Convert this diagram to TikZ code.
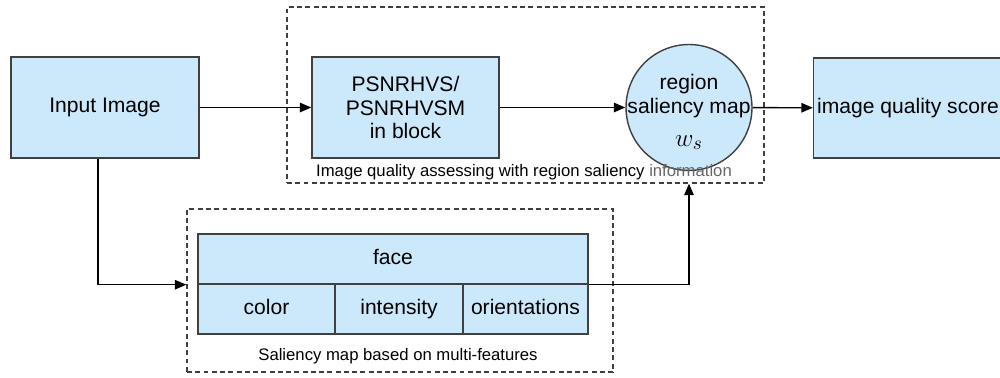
\documentclass[tikz,border=0pt]{standalone}
\usepackage{fontspec}
\setmainfont{Liberation Sans}
\usetikzlibrary{arrows.meta}

\definecolor{boxblue}{RGB}{204,233,251}
\definecolor{edgegray}{RGB}{64,64,64}

\begin{document}
\begin{tikzpicture}[x=0.02cm,y=-0.02cm,
    blk/.style={draw=edgegray,fill=boxblue,line width=0.8pt,inner sep=0pt,
      align=center,font=\fontsize{12}{13.6}\selectfont},
    cell/.style={blk,text height=9pt,text depth=2.6pt},
    frame/.style={draw=edgegray,line width=0.8pt,dash pattern=on 2.8pt off 1.9pt,inner sep=0pt},
    arr/.style={-{Triangle[length=0.23cm,width=0.19cm]},line width=0.8pt},
    note/.style={inner sep=0pt,font=\fontsize{9.5}{11}\selectfont}]

    \useasboundingbox (0,0) rectangle (1000,378);

    % 两个虚线框
    \node[frame,minimum width=9.54cm,minimum height=3.52cm] (iqa) at (525.5,95) {};
    \node[frame,minimum width=8.52cm,minimum height=3.26cm] (feat) at (400,290.5) {};

    % 上面一排
    \node[blk,minimum width=3.76cm,minimum height=2.02cm] (input) at (105,107.5) {Input Image};
    \node[blk,minimum width=3.74cm,minimum height=2.02cm] (psnr) at (405.5,107.5) {PSNRHVS/\\PSNRHVSM\\in block};
    \node[blk,circle,minimum size=2.52cm] (region) at (689,107.5) {};
    \node[align=center,inner sep=0pt,font=\fontsize{12}{13.6}\selectfont] (regiontext) at (689,112)
      {region\\saliency map\\[5pt]{\fontsize{15}{15}\selectfont$w_s$}};
    \node[blk,minimum width=3.78cm,minimum height=2.0cm] (score) at (908,108) {image quality score};

    \node[note] (iqalabel) at (524,172) {Image quality assessing with region saliency {\color{black!60}information}};

    % 多特征显著图
    \node[cell,minimum width=7.8cm,minimum height=1.0cm] (face) at (393,259) {face};
    \node[cell,minimum width=2.74cm,minimum height=1.0cm] (color) at (266.5,309) {color};
    \node[cell,minimum width=2.56cm,minimum height=1.0cm] (intensity) at (399,309) {intensity};
    \node[cell,minimum width=2.5cm,minimum height=1.0cm] (orient) at (525.5,309) {orientations};

    \node[note] (featlabel) at (398,356) {Saliency map based on multi-features};

    % 箭头
    \draw[arr] (input) -- (psnr);
    \draw[arr] (psnr) -- (region);
    \draw[arr] (region) -- (score);
    \draw[arr] ([xshift=-0.14cm]input.south) |- (feat.west |- face.south);
    \draw[arr] (face.south -| orient.east) -| (iqa.south -| region);

\end{tikzpicture}
\end{document}
